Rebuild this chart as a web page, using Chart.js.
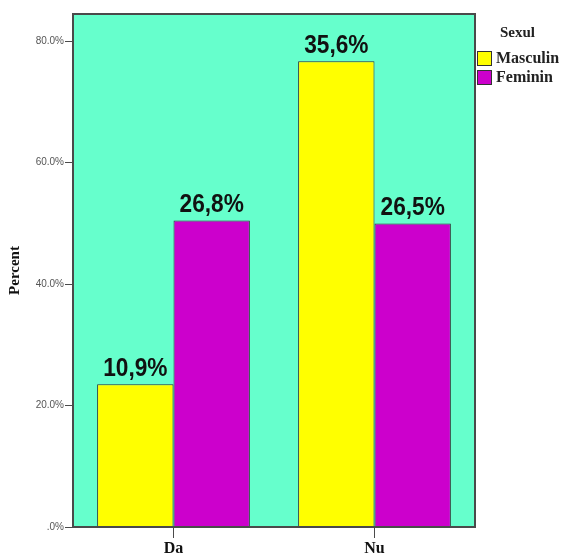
<!DOCTYPE html>
<html>
<head>
<meta charset="utf-8">
<script src="https://cdn.jsdelivr.net/npm/chart.js@4"></script>
<style>
  html, body { margin: 0; padding: 0; background: #fff; }
  #wrap { width: 561px; height: 559px; }
</style>
</head>
<body>
<div id="wrap"><canvas id="grafica" width="561" height="559"></canvas></div>
<script>
// Datos
var categorias = ['Da', 'Nu'];
var serieMasculin = [23.5, 76.7];
var serieFeminin = [50.5, 50.0];
// Etiquetas que aparecen encima de las barras
var etiquetasMasculin = ['10,9%', '35,6%'];
var etiquetasFeminin = ['26,8%', '26,5%'];
var nombresSeries = ['Masculin', 'Feminin'];
var tituloLeyenda = 'Sexul';

var fondo = '#66FFCC';
var colorMarco = '#4a4a4a';

// Plugin para fondo, marco, etiquetas y leyenda
var extras = {
    id: 'extras',
    beforeDatasetsDraw: function (chart) {
        var ctx = chart.ctx, a = chart.chartArea;
        ctx.save();
        ctx.fillStyle = fondo;
        ctx.fillRect(a.left, a.top, a.right - a.left, a.bottom - a.top);
        ctx.restore();
    },
    afterDraw: function (chart) {
        var ctx = chart.ctx, a = chart.chartArea;
        ctx.save();
        // marco
        ctx.strokeStyle = colorMarco;
        ctx.lineWidth = 2;
        ctx.strokeRect(a.left, a.top, a.right - a.left, a.bottom - a.top);

        // etiquetas encima de las barras (texto un poco estirado como en el original)
        var etiquetas = [etiquetasMasculin, etiquetasFeminin];
        ctx.fillStyle = '#111';
        ctx.font = 'bold 21px "Liberation Sans", Arial, sans-serif';
        ctx.textAlign = 'center';
        ctx.textBaseline = 'alphabetic';
        chart.data.datasets.forEach(function (ds, i) {
            chart.getDatasetMeta(i).data.forEach(function (bar, j) {
                ctx.save();
                ctx.translate(bar.x, bar.y - 8);
                ctx.scale(1.08, 1.27);
                ctx.fillText(etiquetas[i][j], 0, 0);
                ctx.restore();
            });
        });

        // leyenda
        ctx.textAlign = 'left';
        ctx.textBaseline = 'middle';
        ctx.font = 'bold 15px "Liberation Serif", serif';
        ctx.fillStyle = '#222';
        ctx.fillText(tituloLeyenda, 500, 33);
        ctx.font = 'bold 16px "Liberation Serif", serif';
        chart.data.datasets.forEach(function (ds, i) {
            var y = 51 + i * 19;
            ctx.fillStyle = ds.backgroundColor;
            ctx.fillRect(477, y, 15, 15);
            ctx.strokeStyle = '#333';
            ctx.lineWidth = 1;
            ctx.strokeRect(477.5, y + 0.5, 14, 14);
            ctx.fillStyle = '#222';
            ctx.fillText(ds.label, 496, y + 8);
        });
        ctx.restore();
    }
};

var ctx = document.getElementById('grafica').getContext('2d');
var myChart = new Chart(ctx, {
    type: 'bar',
    data: {
        labels: categorias,
        datasets: [{
            label: nombresSeries[0],
            data: serieMasculin,
            backgroundColor: '#FFFF00',
            borderColor: '#333333',
            borderWidth: 1
        }, {
            label: nombresSeries[1],
            data: serieFeminin,
            backgroundColor: '#CC00CC',
            borderColor: '#333333',
            borderWidth: 1
        }]
    },
    options: {
        responsive: false,
        animation: false,
        layout: { padding: { top: 14, right: 86, left: 0, bottom: 0 } },
        plugins: {
            legend: { display: false },
            tooltip: { enabled: false }
        },
        datasets: {
            bar: { categoryPercentage: 0.76, barPercentage: 1.0 }
        },
        scales: {
            x: {
                afterFit: function (s) { s.height = 32; },
                grid: {
                    offset: false,
                    drawOnChartArea: false,
                    drawTicks: true,
                    tickLength: 11,
                    color: colorMarco
                },
                border: { display: false },
                ticks: {
                    color: '#111',
                    padding: 1,
                    font: { family: '"Liberation Serif", serif', size: 16, weight: 'bold' }
                }
            },
            y: {
                min: 0,
                max: 84.5,
                afterFit: function (s) { s.width = 73; },
                grid: {
                    drawOnChartArea: false,
                    drawTicks: true,
                    tickLength: 8,
                    color: colorMarco
                },
                border: { display: false },
                ticks: {
                    stepSize: 20,
                    includeBounds: false,
                    padding: 1,
                    color: '#555',
                    font: { family: '"Liberation Sans", Arial, sans-serif', size: 10 },
                    callback: function (v) { return v === 0 ? '.0%' : v.toFixed(1) + '%'; }
                },
                title: {
                    display: true,
                    text: 'Percent',
                    color: '#111',
                    padding: { top: 6, bottom: 0 },
                    font: { family: '"Liberation Serif", serif', size: 15, weight: 'bold' }
                }
            }
        }
    },
    plugins: [extras]
});
</script>
</body>
</html>
